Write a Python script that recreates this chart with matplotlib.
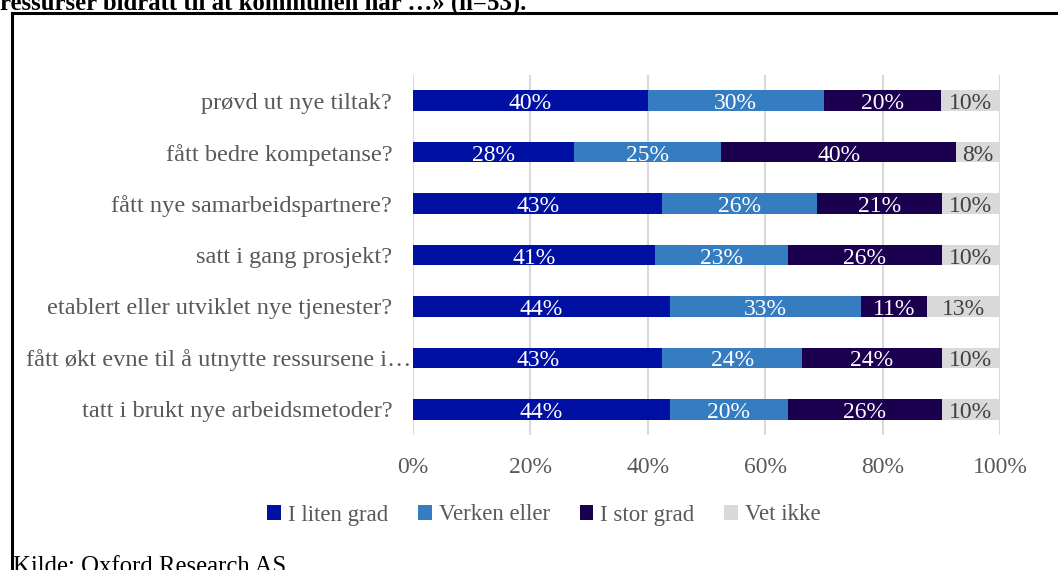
import matplotlib
matplotlib.use('agg')
import matplotlib.pyplot as plt
from matplotlib.lines import Line2D
import numpy as np

plt.rcParams['font.family'] = ['Liberation Serif', 'DejaVu Serif']

categories = ['prøvd ut nye tiltak?',
              'fått bedre kompetanse?',
              'fått nye samarbeidspartnere?',
              'satt i gang prosjekt?',
              'etablert eller utviklet nye tjenester?',
              'fått økt evne til å utnytte ressursene i…',
              'tatt i brukt nye arbeidsmetoder?']
series = ['I liten grad', 'Verken eller', 'I stor grad', 'Vet ikke']
liten = [40.0, 27.5, 42.5, 41.3, 43.8, 42.5, 43.8]
verken = [30.0, 25.0, 26.4, 22.5, 32.6, 23.8, 20.0]
stor = [20.0, 40.0, 21.2, 26.3, 11.1, 23.8, 26.3]
vet_ikke = [10.0, 7.5, 9.9, 9.9, 12.5, 9.9, 9.9]
xticks = [0, 20, 40, 60, 80, 100]

colors = ['#0010A2', '#367CC0', '#1A004F', '#D9D9D9']
label_colors = ['white', 'white', 'white', '#404040']
text_gray = '#595959'

W, H = 1058, 570
fig = plt.figure(figsize=(W / 100, H / 100), dpi=100)
ax = fig.add_axes([413 / W, 1 - 435 / H, 587 / W, 360 / H])

y = np.arange(len(categories))
left = np.zeros(len(categories))
for name, vals, col, lcol in zip(series, [liten, verken, stor, vet_ikke], colors, label_colors):
    vals = np.asarray(vals)
    ax.barh(y, vals, left=left, height=0.4, color=col, label=name, zorder=2)
    # excel puts the data labels a touch below the bar centre
    for yi, l, v in zip(y, left, vals):
        ax.text(l + v / 2, yi + 0.06, '%d%%' % int(v + 0.5), ha='center', va='center',
                color=lcol, fontsize=17, zorder=3)
    left += vals

ax.set_xlim(0, 100)
ax.set_ylim(len(categories) - 0.5, -0.5)
ax.set_xticks(xticks)
ax.set_xticklabels(['%d%%' % t for t in xticks])
ax.set_yticks(y)
ax.set_yticklabels(categories, fontsize=17.6)
ax.tick_params(axis='both', length=0, labelcolor=text_gray)
ax.tick_params(axis='x', pad=16, labelsize=17)
ax.tick_params(axis='y', pad=15)
ax.yaxis.get_major_ticks()[5].set_pad(1)
ax.grid(axis='x', color='#D9D9D9', linewidth=1.5, zorder=0)
for s in ax.spines.values():
    s.set_visible(False)
ax.set_axisbelow(True)

leg = fig.legend(loc='center', bbox_to_anchor=(544 / W, 1 - 515 / H), ncol=4, frameon=False,
                 fontsize=16.5, handlelength=0.6, handleheight=0.6, handletextpad=0.3,
                 columnspacing=1.3, labelcolor=text_gray)

# frame around the figure (only top and left visible in the crop)
fig.add_artist(Line2D([12 / W, 12 / W], [0, 1 - 12.5 / H], color='black', linewidth=2.2))
fig.add_artist(Line2D([12 / W, 1], [1 - 12.5 / H, 1 - 12.5 / H], color='black', linewidth=2.2))

fig.text(0 / W, 1 - 9.5 / H, 'ressurser bidratt til at kommunen har …» (n=53).', fontsize=17.8,
         fontweight='bold', va='baseline', ha='left', color='black')
fig.text(13 / W, -3 / H, 'Kilde: Oxford Research AS', fontsize=17.8, va='baseline', ha='left',
         color='black')

fig.savefig('out.png', dpi=100)
